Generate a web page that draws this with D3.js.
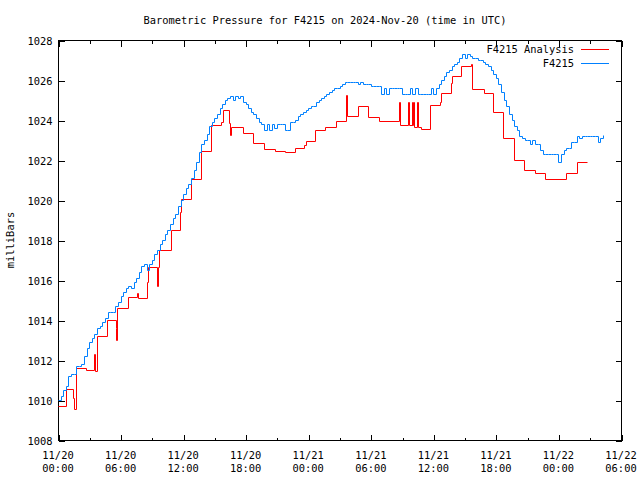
<!DOCTYPE html>
<html><head><meta charset="utf-8">
<script src="https://cdn.jsdelivr.net/npm/d3@7"></script>
<style>
body{margin:0;background:#fff;}
text{font-family:"DejaVu Sans Mono",monospace;font-size:10.4px;fill:#000;}
</style></head>
<body><svg id="c" width="640" height="480"></svg>
<script>
// ---- data (hours since 2024-11-20 00:00 UTC) ----
const xTickHours = [0, 6, 12, 18, 24, 30, 36, 42, 48, 54];
const xTickDates = ["11/20","11/20","11/20","11/20","11/21","11/21","11/21","11/21","11/22","11/22"];
const xTickTimes = ["00:00","06:00","12:00","18:00","00:00","06:00","12:00","18:00","00:00","06:00"];
const yTicks = [1008,1010,1012,1014,1016,1018,1020,1022,1024,1026,1028];

// F4215 observations, every 15 minutes starting 00:00
const obsStep = 0.25;
const obsValues = [
1010.0,1010.2,1010.5,1010.7,1011.2,1011.3,1011.3,1011.7,1011.7,1011.8,1012.2,1012.6,1012.9,1013.1,1013.3,1013.6,
1013.7,1013.9,1014.1,1014.4,1014.4,1014.4,1014.7,1014.9,1015.2,1015.4,1015.6,1015.7,1015.6,1015.9,1016.1,1016.4,
1016.7,1016.8,1016.5,1016.8,1017.0,1017.3,1017.5,1017.8,1018.0,1018.3,1018.5,1018.8,1019.1,1019.3,1019.7,1020.0,
1020.3,1020.6,1020.8,1021.1,1021.5,1021.9,1022.4,1022.8,1023.0,1023.3,1023.7,1023.9,1024.1,1024.3,1024.6,1024.8,
1025.0,1025.1,1025.2,1025.0,1025.2,1025.1,1025.2,1024.9,1024.8,1024.6,1024.4,1024.3,1024.1,1023.9,1023.8,1023.5,
1023.8,1023.5,1023.8,1023.6,1023.8,1023.8,1023.8,1023.5,1023.5,1023.9,1023.9,1024.0,1024.2,1024.3,1024.4,1024.5,
1024.6,1024.7,1024.7,1024.9,1025.0,1025.1,1025.2,1025.3,1025.4,1025.5,1025.6,1025.6,1025.7,1025.8,1025.9,1025.9,
1025.9,1025.9,1025.9,1025.8,1025.9,1025.8,1025.8,1025.8,1025.7,1025.7,1025.7,1025.7,1025.3,1025.6,1025.3,1025.6,
1025.6,1025.6,1025.6,1025.6,1025.3,1025.3,1025.3,1025.6,1025.3,1025.6,1025.3,1025.3,1025.3,1025.3,1025.3,1025.6,
1025.3,1025.6,1025.8,1026.0,1026.2,1026.4,1026.5,1026.7,1026.8,1026.9,1027.1,1027.3,1027.1,1027.3,1027.2,1027.1,
1027.1,1027.0,1027.0,1026.9,1026.8,1026.7,1026.5,1026.3,1026.1,1025.8,1025.4,1025.0,1024.7,1024.3,1024.0,1023.7,
1023.5,1023.2,1023.1,1023.0,1023.0,1022.8,1023.0,1022.8,1022.8,1022.5,1022.3,1022.3,1022.3,1022.3,1022.3,1022.3,
1021.9,1022.3,1022.5,1022.6,1022.6,1022.9,1022.9,1023.2,1023.1,1023.2,1023.2,1023.2,1023.2,1023.2,1023.2,1022.9,
1023.1,1023.25
];

// F4215 Analysis: change points (hours) and values
const anaHours = [0,0.77,1.42,1.52,1.76,2.7,3.49,3.56,3.7,4.73,5.53,5.6,5.7,6.74,7.55,7.65,8.55,8.62,9.47,9.55,9.72,
10.8,11.7,11.8,12.73,13.69,14.65,15.6,15.8,16.43,16.5,16.6,17.77,18.73,19.76,20.78,21.77,22.73,23.6,23.8,24.65,25.6,
26.63,27.62,27.7,28.74,29.76,30.79,32.71,32.8,33.6,33.7,33.93,34.0,34.08,34.15,34.41,34.5,34.79,35.68,36.64,36.7,37.66,
37.76,38.62,39.58,39.74,40.9,41.75,42.7,43.74,44.7,45.75,46.71,48.72,49.75,50.71];
const anaValues = [1009.7,1010.55,1010.1,1009.55,1011.6,1011.5,1012.3,1011.45,1013.2,1014.0,1013.6,1013.0,1014.6,1015.13,1015.37,1015.08,1015.9,1016.65,1015.7,1016.65,1017.5,
1018.5,1019.4,1020.05,1021.03,1022.47,1023.75,1023.92,1024.5,1023.83,1023.25,1023.63,1023.37,1022.83,1022.55,1022.45,1022.4,1022.6,1022.75,1022.97,1023.5,1023.63,
1023.97,1025.25,1024.2,1024.7,1024.13,1023.95,1024.92,1023.75,1024.92,1023.75,1024.92,1023.75,1024.92,1023.63,1024.92,1023.63,1023.55,1024.75,1024.92,1025.37,1025.83,
1026.2,1026.7,1026.8,1025.53,1025.35,1024.42,1023.08,1022.0,1021.5,1021.33,1021.03,1021.37,1021.88,1021.88];

const titleText = "Barometric Pressure for F4215 on 2024-Nov-20 (time in UTC)";
const yLabel = "milliBars";
const legendNames = ["F4215 Analysis", "F4215"];
const colors = ["#ff0000", "#0080ff"];

// ---- drawing ----
const svg = d3.select("#c");
const L = 58, R = 621, T = 40, B = 440;
const x = d3.scaleLinear().domain([0, 54]).range([L, R]);
const y = d3.scaleLinear().domain([1008, 1028]).range([B, T]);
const px = v => Math.round(v) + 0.5;

svg.append("text").attr("x", 325).attr("y", 24).attr("text-anchor", "middle").text(titleText);
svg.append("text").attr("transform", "translate(14,240) rotate(-90)").attr("text-anchor", "middle").text(yLabel);

const g = svg.append("g").attr("transform", "translate(0.5,0.5)").attr("shape-rendering", "crispEdges");

// y axes (left and right), ticks inward
const yl = g.append("g").attr("transform", `translate(${L},0)`).call(d3.axisLeft(y).tickValues(yTicks).tickFormat(d3.format("d")).tickSizeInner(-6).tickSizeOuter(0).tickPadding(6));
yl.select(".domain").remove();
yl.selectAll("text").style("font-family", "DejaVu Sans Mono").style("font-size", "10.4px").attr("dy", "0.35em");
const yr = g.append("g").attr("transform", `translate(${R},0)`).call(d3.axisRight(y).tickValues(yTicks).tickFormat("").tickSizeInner(-6).tickSizeOuter(0));
yr.select(".domain").remove();

// x axes bottom and top with minor ticks
const minor = xTickHours.slice(0, -1).map(h => h + 3);
const xb = g.append("g").attr("transform", `translate(0,${B})`).call(d3.axisBottom(x).tickValues(xTickHours).tickFormat("").tickSizeInner(-6).tickSizeOuter(0));
xb.select(".domain").remove();
const xbm = g.append("g").attr("transform", `translate(0,${B})`).call(d3.axisBottom(x).tickValues(minor).tickFormat("").tickSizeInner(-3).tickSizeOuter(0));
xbm.select(".domain").remove();
const xt = g.append("g").attr("transform", `translate(0,${T})`).call(d3.axisTop(x).tickValues(xTickHours).tickFormat("").tickSizeInner(-6).tickSizeOuter(0));
xt.select(".domain").remove();
const xtm = g.append("g").attr("transform", `translate(0,${T})`).call(d3.axisTop(x).tickValues(minor).tickFormat("").tickSizeInner(-3).tickSizeOuter(0));
xtm.select(".domain").remove();

// x tick labels (two lines)
xTickHours.forEach((h, i) => {
  svg.append("text").attr("x", x(h)).attr("y", 459).attr("text-anchor", "middle").text(xTickDates[i]);
  svg.append("text").attr("x", x(h)).attr("y", 472).attr("text-anchor", "middle").text(xTickTimes[i]);
});

// border
g.append("rect").attr("x", L).attr("y", T).attr("width", R - L).attr("height", B - T).attr("fill", "none").attr("stroke", "#000");

// series (pixel-snapped)
const obs = obsValues.map((v, i) => [i * obsStep, v]);
const ana = anaHours.map((h, i) => [h, anaValues[i]]);
const line = d3.line().x(d => px(x(d[0]))).y(d => px(y(d[1]))).curve(d3.curveStepAfter);
const sg = svg.append("g");
sg.append("path").datum(ana).attr("d", line).attr("fill", "none").attr("stroke", colors[0]).attr("stroke-width", 1);
sg.append("path").datum(obs).attr("d", line).attr("fill", "none").attr("stroke", colors[1]).attr("stroke-width", 1);

// legend
legendNames.forEach((n, i) => {
  const yy = 49 + i * 14;
  svg.append("text").attr("x", 574).attr("y", yy).attr("dy", "0.35em").attr("text-anchor", "end").text(n);
  sg.append("line").attr("x1", 581).attr("x2", 609).attr("y1", yy + 0.5).attr("y2", yy + 0.5).attr("stroke", colors[i]).attr("stroke-width", 1);
});
</script></body></html>
